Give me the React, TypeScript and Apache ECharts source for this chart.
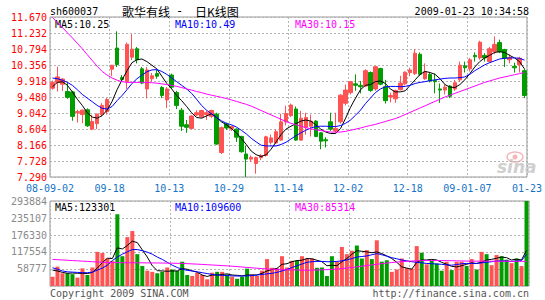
import React, { useEffect, useRef } from "react";
import * as echarts from "echarts";

const MONO = '"DejaVu Sans Mono", "Liberation Mono", monospace';
const CJK = '"Noto Sans CJK SC", sans-serif';

const dateLabels = ["08-09-02", "09-18", "10-13", "10-29", "11-14", "12-02", "12-18", "09-01-07", "01-23"];
const priceTicks = [7.29, 7.728, 8.166, 8.604, 9.042, 9.48, 9.918, 10.356, 10.794, 11.232, 11.67];
const volTicks = [0, 58777, 117554, 176330, 235107, 293884];

const opens = [
  9.72, 9.88, 9.83, 9.63, 9.62, 9.05, 9.0, 9.13, 8.6, 8.75,
  9.0, 9.08, 10.24, 10.82, 10.01, 9.9, 10.57, 10.8, 10.25, 9.7,
  9.98, 10.12, 9.74, 9.4, 10.08, 9.6, 9.12, 8.72, 8.62, 8.99,
  8.94, 9.0, 8.95, 9.01, 7.96, 8.74, 8.62, 8.6, 8.4, 7.92,
  7.78, 7.66, 7.82, 7.88, 8.24, 8.22, 8.3, 8.8, 8.97, 9.15,
  8.3, 8.65, 8.68, 8.82, 8.5, 8.31, 8.8, 8.55, 8.8, 9.31,
  9.6, 9.84, 9.8, 9.78, 10.15, 9.7, 10.26, 9.76, 9.48, 9.43,
  9.68, 9.84, 10.15, 10.12, 10.65, 9.98, 10.1, 9.93, 9.7, 9.67,
  9.78, 9.7, 9.95, 10.33, 10.25, 10.62, 10.55, 10.62, 10.45, 10.72,
  10.97, 10.78, 10.5, 10.32, 10.36, 10.2,
];
const closes = [
  9.88, 10.03, 9.97, 9.47, 8.95, 9.08, 9.12, 8.69, 8.81, 9.01,
  9.25, 9.41, 10.35, 10.37, 9.96, 10.92, 10.79, 10.5, 9.86, 10.22,
  10.06, 10.05, 9.52, 9.7, 9.75, 9.25, 8.68, 8.65, 8.96, 9.05,
  9.11, 9.05, 9.11, 8.19, 8.64, 8.63, 8.67, 8.38, 7.98, 7.78,
  7.83, 7.82, 7.88, 8.39, 8.36, 8.53, 8.8, 9.03, 9.26, 8.3,
  8.9, 8.92, 8.82, 8.4, 8.27, 8.28, 8.6, 8.62, 9.53, 9.67,
  9.9, 9.8, 9.76, 10.2, 9.66, 10.31, 9.83, 9.38, 9.52, 9.66,
  9.86, 10.16, 10.22, 10.68, 10.1, 10.17, 9.92, 9.9, 9.67, 9.75,
  9.5, 9.87, 10.35, 10.28, 10.5, 10.58, 10.98, 10.55, 10.8, 10.92,
  10.72, 10.54, 10.56, 10.28, 10.54, 9.52,
];
const lows = [
  9.68, 9.63, 9.65, 9.43, 8.83, 8.78, 8.76, 8.66, 8.57, 8.6,
  8.95, 9.0, 10.05, 10.3, 9.9, 9.7, 10.49, 10.4, 9.83, 9.44,
  9.9, 9.98, 9.45, 9.18, 9.7, 9.15, 8.55, 8.5, 8.6, 8.95,
  8.9, 8.85, 8.9, 8.17, 7.92, 8.58, 8.55, 8.25, 7.96, 7.29,
  7.7, 7.38, 7.75, 7.85, 8.18, 8.2, 8.28, 8.7, 8.93, 8.28,
  8.28, 8.45, 8.4, 8.38, 8.05, 8.1, 8.55, 8.5, 8.75, 9.25,
  9.55, 9.65, 9.58, 9.75, 9.62, 9.65, 9.8, 9.3, 9.33, 9.32,
  9.66, 9.8, 10.05, 10.08, 10.05, 9.95, 9.88, 9.58, 9.32, 9.55,
  9.45, 9.65, 9.9, 10.15, 10.18, 10.45, 10.5, 10.45, 10.42, 10.65,
  10.68, 10.3, 10.4, 10.15, 10.15, 9.45,
];
const highs = [
  9.93, 10.31, 10.0, 9.88, 9.65, 9.13, 9.14, 9.17, 8.99, 9.03,
  9.31, 9.45, 10.35, 11.28, 10.08, 10.97, 11.2, 10.85, 10.3, 10.3,
  10.14, 10.22, 9.78, 9.75, 10.12, 9.65, 9.18, 8.85, 8.98, 9.12,
  9.13, 9.1, 9.13, 9.05, 8.67, 8.78, 8.7, 8.62, 8.42, 8.15,
  7.88, 7.85, 7.92, 8.42, 8.45, 8.6, 9.02, 9.24, 9.3, 9.22,
  9.1, 9.05, 9.0, 8.85, 8.52, 8.38, 9.05, 9.05, 9.56, 9.82,
  9.92, 10.1, 9.92, 10.24, 10.18, 10.33, 10.28, 9.95, 9.6, 9.68,
  10.06, 10.18, 10.28, 10.79, 10.7, 10.4, 10.15, 10.12, 9.85, 9.83,
  9.8, 9.95, 10.45, 10.45, 10.55, 10.7, 11.02, 10.68, 10.85, 11.14,
  11.05, 10.8, 10.65, 10.42, 10.58, 10.25,
];
const volumes = [
  32000, 67000, 44000, 44000, 41000, 29000, 61000, 38000, 64000, 118000,
  114000, 95000, 86000, 248000, 103000, 169000, 190000, 110000, 69000, 53000,
  49000, 44000, 49000, 64000, 57000, 52000, 84000, 38000, 34500, 46000,
  38000, 23000, 46000, 49000, 49000, 40000, 32000, 25000, 32000, 60000,
  40000, 34500, 53000, 93000, 63000, 61000, 103000, 64000, 87000, 87000,
  103000, 95000, 95000, 63000, 64000, 34500, 103000, 84000, 135000, 110000,
  122000, 140000, 95000, 124000, 93000, 158000, 84000, 89000, 49000, 57000,
  95000, 62000, 60000, 138000, 115000, 75000, 87000, 78000, 53000, 84000,
  55000, 84000, 84000, 69000, 93000, 57000, 118000, 110000, 72000, 107000,
  103000, 91000, 79000, 95000, 69000, 293884,
];
const ma5 = [
  9.76, 9.88, 9.9, 9.8, 9.62, 9.42, 9.25, 9.05, 8.93, 8.9,
  8.97, 9.12, 9.36, 9.68, 9.95, 10.2, 10.42, 10.5, 10.52, 10.45,
  10.35, 10.25, 10.05, 9.85, 9.7, 9.52, 9.38, 9.22, 9.05, 8.92,
  8.9, 8.96, 9.02, 8.92, 8.8, 8.72, 8.62, 8.5, 8.35, 8.18,
  8.0, 7.9, 7.85, 7.9, 8.05, 8.25, 8.45, 8.6, 8.68, 8.75,
  8.82, 8.85, 8.82, 8.72, 8.6, 8.52, 8.48, 8.48, 8.62, 8.9,
  9.2, 9.45, 9.68, 9.8, 9.82, 9.9, 9.92, 9.85, 9.7, 9.62,
  9.62, 9.65, 9.8, 9.95, 10.1, 10.18, 10.15, 10.1, 9.98, 9.82,
  9.75, 9.74, 9.82, 9.95, 10.12, 10.3, 10.45, 10.55, 10.62, 10.7,
  10.72, 10.7, 10.62, 10.55, 10.45, 10.25,
];
const ma10 = [
  10.0, 9.98, 9.94, 9.88, 9.8, 9.68, 9.55, 9.45, 9.35, 9.25,
  9.17, 9.15, 9.22, 9.38, 9.52, 9.68, 9.85, 9.98, 10.08, 10.17,
  10.22, 10.23, 10.18, 10.1, 10.0, 9.9, 9.8, 9.7, 9.58, 9.42,
  9.25, 9.12, 9.02, 8.92, 8.83, 8.76, 8.72, 8.66, 8.57, 8.47,
  8.35, 8.25, 8.16, 8.14, 8.14, 8.14, 8.18, 8.24, 8.33, 8.42,
  8.5, 8.57, 8.63, 8.67, 8.68, 8.68, 8.67, 8.67, 8.7, 8.76,
  8.85, 8.98, 9.12, 9.3, 9.45, 9.6, 9.7, 9.76, 9.77, 9.77,
  9.76, 9.77, 9.8, 9.85, 9.88, 9.9, 9.93, 9.95, 9.97, 9.99,
  10.0, 10.0, 10.01, 10.03, 10.1, 10.2, 10.28, 10.36, 10.42, 10.47,
  10.52, 10.54, 10.55, 10.55, 10.54, 10.49,
];
const ma30 = [
  11.66, 11.52, 11.38, 11.24, 11.1, 10.95, 10.8, 10.64, 10.48, 10.32,
  10.18, 10.08, 10.0, 9.94, 9.9, 9.88, 9.88, 9.88, 9.88, 9.88,
  9.87, 9.86, 9.84, 9.82, 9.8, 9.77, 9.74, 9.7, 9.67, 9.63,
  9.6, 9.56, 9.53, 9.5, 9.47, 9.44, 9.4, 9.36, 9.32, 9.28,
  9.23, 9.17, 9.11, 9.05, 8.99, 8.93, 8.87, 8.81, 8.76, 8.72,
  8.68, 8.64, 8.61, 8.58, 8.56, 8.54, 8.52, 8.52, 8.52, 8.54,
  8.57, 8.6, 8.63, 8.67, 8.7, 8.73, 8.77, 8.81, 8.85, 8.89,
  8.94, 9.0, 9.06, 9.12, 9.18, 9.24, 9.3, 9.36, 9.42, 9.48,
  9.53, 9.58, 9.63, 9.68, 9.73, 9.78, 9.83, 9.88, 9.92, 9.96,
  10.0, 10.03, 10.06, 10.09, 10.12, 10.15,
];
const volMa5 = [
  55000, 52000, 47000, 44000, 45000, 44000, 44000, 43000, 47000, 62000,
  81000, 96000, 95000, 132000, 128000, 140000, 155000, 150000, 125000, 100000,
  70000, 53000, 52000, 51000, 52000, 52000, 60000, 58000, 52000, 48000,
  38000, 33000, 38000, 38000, 40000, 42000, 38000, 37000, 35000, 38000,
  38000, 38000, 44000, 52000, 57000, 61000, 75000, 77000, 84000, 88000,
  89000, 95000, 94000, 89000, 84000, 70000, 72000, 70000, 84000, 95000,
  110000, 122000, 120000, 118000, 115000, 118000, 112000, 104000, 95000, 82000,
  66000, 62000, 58000, 82000, 90000, 90000, 92000, 90000, 82000, 75000,
  68000, 66000, 70000, 75000, 80000, 78000, 82000, 90000, 92000, 96000,
  100000, 98000, 90000, 93000, 90000, 123301,
];
const volMa10 = [
  63000, 58000, 52000, 49000, 48000, 47000, 46000, 46000, 48000, 55000,
  62000, 72000, 88000, 100000, 110000, 118000, 126000, 126000, 122000, 117000,
  110000, 100000, 92000, 82000, 72000, 64000, 58000, 54000, 52000, 49000,
  46000, 43000, 40000, 38000, 37000, 36000, 35000, 34500, 34500, 35000,
  36000, 38000, 40000, 42000, 44000, 47000, 52000, 57000, 64000, 70000,
  76000, 82000, 84000, 85000, 85000, 84000, 84000, 85000, 87000, 90000,
  95000, 100000, 102000, 104000, 108000, 112000, 108000, 103000, 98000, 94000,
  90000, 87000, 84000, 82000, 80000, 78000, 77000, 76000, 75000, 73000,
  72000, 74000, 77000, 78000, 78000, 78000, 80000, 82000, 84000, 86000,
  87000, 86000, 85000, 86000, 88000, 109600,
];
const volMa30 = [
  92000, 91000, 90000, 89000, 88000, 87000, 86000, 85000, 84000, 83000,
  82000, 81500, 81000, 80800, 80600, 80400, 80300, 80200, 80100, 80000,
  79800, 79600, 79400, 79100, 78800, 78400, 78000, 77300, 76500, 75600,
  74600, 73600, 72600, 71600, 70600, 69600, 68400, 67000, 65600, 64200,
  62800, 61500, 60200, 59000, 58000, 57200, 56500, 56000, 55600, 55400,
  54600, 54600, 54800, 55200, 55800, 56600, 57600, 58800, 60200, 62000,
  64000, 66200, 68500, 70800, 73000, 75200, 77300, 79300, 81100, 82700,
  84100, 85300, 86300, 87100, 87700, 88100, 88300, 88300, 88100, 87800,
  87400, 87000, 86600, 86300, 86100, 85900, 85800, 85700, 85600, 85500,
  85500, 85400, 85400, 85300, 85300, 85314,
];

const UP = "#FF5252";
const DOWN = "#009C00";
const GRID_LINE = { type: [2, 2] as any, color: "#B4B4B4", width: 1 };

export default function App() {
  const ref = useRef<HTMLDivElement>(null);
  useEffect(() => {
    const chart = echarts.init(ref.current!, null, { renderer: "svg" });
    const cats = closes.map((_, i) => String(i));
    const last = closes.length - 1;
    const txt = (text: string, x: number, y: number, fill: string, extra: any = {}) => ({
      type: "text",
      x,
      y,
      silent: true,
      style: { text, fill, font: `10px ${MONO}`, textVerticalAlign: "middle", ...extra },
    });
    chart.setOption({
      animation: false,
      backgroundColor: "#fff",
      grid: [
        { left: 50, top: 17, width: 479, height: 160, show: true, borderColor: "#999", borderWidth: 1 },
        { left: 50, top: 201, width: 479, height: 85, show: true, borderColor: "#999", borderWidth: 1 },
      ],
      xAxis: [
        { type: "category", gridIndex: 0, data: cats, show: false, position: "bottom" },
        { type: "category", gridIndex: 1, data: cats, show: false, position: "bottom" },
        {
          type: "value", gridIndex: 0, min: 0, max: 96, interval: 12, position: "bottom",
          axisLine: { show: false }, axisTick: { show: false },
          splitLine: { show: true, lineStyle: GRID_LINE },
          axisLabel: {
            formatter: (v: number) => dateLabels[Math.round(v / 12)] ?? "",
            color: "#1673C6", fontFamily: MONO, fontSize: 10, margin: 6,
            showMinLabel: true, showMaxLabel: true,
          },
        },
        {
          type: "value", gridIndex: 1, min: 0, max: 96, interval: 12, position: "bottom",
          axisLine: { show: false }, axisTick: { show: false }, axisLabel: { show: false },
          splitLine: { show: true, lineStyle: GRID_LINE },
        },
      ],
      yAxis: [
        {
          type: "value", gridIndex: 0, min: 7.29, max: 11.67,
          axisLine: { show: false },
          axisTick: { show: false, customValues: priceTicks },
          axisLabel: {
            customValues: priceTicks, formatter: (v: number) => v.toFixed(3),
            color: "#FF0000", fontFamily: MONO, fontSize: 10, margin: 3,
          },
          splitLine: { show: true, lineStyle: GRID_LINE },
        },
        {
          type: "value", gridIndex: 1, min: 0, max: 293884,
          axisLine: { show: false },
          axisTick: { show: false, customValues: volTicks },
          axisLabel: {
            customValues: volTicks, formatter: (v: number) => (v === 0 ? "" : String(v)),
            color: "#8A8A8A", fontFamily: MONO, fontSize: 10, margin: 3,
          },
          splitLine: { show: true, lineStyle: GRID_LINE },
        },
      ],
      series: [
        {
          type: "candlestick", xAxisIndex: 0, yAxisIndex: 0, barWidth: 4,
          data: opens.map((o, i) => [o, closes[i], lows[i], highs[i]]),
          itemStyle: { color: UP, color0: DOWN, borderColor: UP, borderColor0: DOWN, borderWidth: 1 },
        },
        { type: "line", xAxisIndex: 0, yAxisIndex: 0, data: ma5, symbol: "none", lineStyle: { width: 1, color: "#000" }, z: 5 },
        { type: "line", xAxisIndex: 0, yAxisIndex: 0, data: ma10, symbol: "none", lineStyle: { width: 1, color: "#0000FF" }, z: 5 },
        { type: "line", xAxisIndex: 0, yAxisIndex: 0, data: ma30, symbol: "none", lineStyle: { width: 1, color: "#FF00FF" }, z: 5 },
        {
          type: "bar", xAxisIndex: 1, yAxisIndex: 1, barWidth: 4,
          data: volumes.map((v, i) => ({ value: v, itemStyle: { color: closes[i] >= opens[i] ? UP : DOWN } })),
        },
        { type: "line", xAxisIndex: 1, yAxisIndex: 1, data: volMa5, symbol: "none", lineStyle: { width: 1, color: "#000" }, z: 5 },
        { type: "line", xAxisIndex: 1, yAxisIndex: 1, data: volMa10, symbol: "none", lineStyle: { width: 1, color: "#0000FF" }, z: 5 },
        { type: "line", xAxisIndex: 1, yAxisIndex: 1, data: volMa30, symbol: "none", lineStyle: { width: 1, color: "#FF00FF" }, z: 5 },
      ],
      graphic: [
        txt("sh600037", 50, 11, "#000"),
        { type: "text", x: 122, y: 11, silent: true, style: { text: "歌华有线", fill: "#000", font: `12px ${CJK}`, textVerticalAlign: "middle" } },
        { type: "text", x: 176, y: 11, silent: true, style: { text: "-", fill: "#000", font: `12px ${MONO}`, textVerticalAlign: "middle" } },
        { type: "text", x: 195, y: 11, silent: true, style: { text: "日K线图", fill: "#000", font: `12px ${CJK}`, textVerticalAlign: "middle" } },
        txt("2009-01-23 10:34:58", 529, 11, "#000", { textAlign: "right" }),
        txt(`MA5:${ma5[last].toFixed(2)}`, 55, 24, "#000"),
        txt(`MA10:${ma10[last].toFixed(2)}`, 175, 24, "#0000FF"),
        txt(`MA30:${ma30[last].toFixed(2)}`, 295, 24, "#FF00FF"),
        txt(`MA5:${volMa5[last]}`, 55, 207, "#000"),
        txt(`MA10:${volMa10[last]}`, 175, 207, "#0000FF"),
        txt(`MA30:${volMa30[last]}`, 295, 207, "#FF00FF"),
        txt("Copyright 2009 SINA.COM", 50, 293, "#555"),
        txt("http://finance.sina.com.cn", 529, 293, "#555", { textAlign: "right" }),
        { type: "ellipse", shape: { cx: 515, cy: 157, rx: 8, ry: 5 }, silent: true, style: { fill: "none", stroke: "#F4B6B6", lineWidth: 1.5 } },
        { type: "circle", shape: { cx: 515, cy: 157, r: 2.5 }, silent: true, style: { fill: "#F4B6B6" } },
        { type: "text", x: 497, y: 167, silent: true, style: { text: "sina", fill: "#CFCFCF", font: `italic bold 17px "DejaVu Sans", sans-serif`, textVerticalAlign: "middle" } },
      ],
    });
    return () => chart.dispose();
  }, []);
  return <div ref={ref} style={{ position: "absolute", left: 0, top: 0, width: 545, height: 300, background: "#fff" }} />;
}
